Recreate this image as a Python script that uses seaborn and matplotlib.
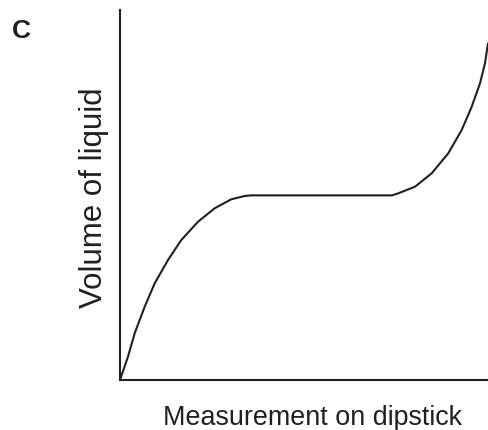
import matplotlib
matplotlib.use("Agg")
import matplotlib.pyplot as plt
import seaborn as sns
import pandas as pd

sns.set_theme(style="white")
plt.rcParams['font.family'] = ['Liberation Sans', 'DejaVu Sans']

measurement = [0, 2.17, 3.99, 6.71, 9.43, 13.04, 16.66, 21.20, 25.73, 30.24, 33.89,
               35.5, 73.9, 75.63, 80.16, 84.70, 89.21, 92.85, 95.57, 97.83, 99.18, 100.0]
volume = [0, 6.30, 12.62, 19.81, 26.14, 32.43, 37.84, 42.78, 46.41, 48.84, 49.73,
          49.9, 49.9, 50.46, 52.24, 55.86, 61.27, 67.57, 73.86, 80.19, 85.59, 91.0]

df = pd.DataFrame({"Measurement on dipstick": measurement, "Volume of liquid": volume})

ink = "#231f20"
fig = plt.figure(figsize=(4.88, 4.30), dpi=100)
ax = fig.add_axes([120/488, 50/430, 368/488, 370/430])
sns.lineplot(data=df, x="Measurement on dipstick", y="Volume of liquid", ax=ax,
             color=ink, linewidth=1.5, sort=False)
ax.set_xlim(0, 100)
ax.set_ylim(0, 100)
ax.set_xticks([])
ax.set_yticks([])
for s in ["top", "right"]:
    ax.spines[s].set_visible(False)
for s in ["left", "bottom"]:
    ax.spines[s].set_color(ink)
    ax.spines[s].set_linewidth(1.5)
ax.set_xlabel("Measurement on dipstick", fontsize=19.4, color=ink, va="baseline")
ax.xaxis.set_label_coords((312.5 - 120) / 368, (380 - 425) / 370)
ax.set_ylabel("Volume of liquid", fontsize=22.5, color=ink, va="baseline")
ax.yaxis.set_label_coords((102 - 120) / 368, (380 - 197.5) / 370)
fig.text(12/488, 1 - 38/430, "C", fontsize=19, fontweight="bold", color=ink,
         ha="left", va="baseline")
fig.savefig("out.png", dpi=100)
